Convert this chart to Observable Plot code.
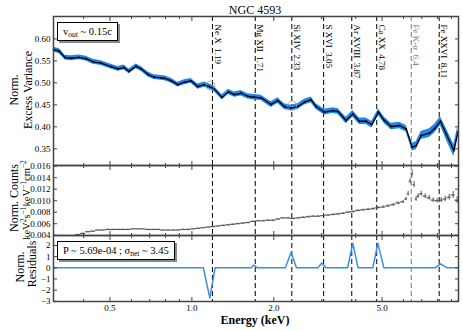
<!DOCTYPE html>
<html><head><meta charset="utf-8">
<script src="https://cdn.jsdelivr.net/npm/d3@7"></script>
<script src="https://cdn.jsdelivr.net/npm/@observablehq/plot@0.6"></script>
<style>
body{margin:0;background:#fff;}
#c{position:relative;width:463px;height:331px;overflow:hidden;font-family:"Liberation Serif","Times New Roman",serif;color:#000;background:#fff;}
#c svg{position:absolute;left:0;}
.ov{position:absolute;white-space:nowrap;}
.lbl{position:absolute;transform:translate(-50%,-50%) rotate(-90deg);text-align:center;white-space:nowrap;font-size:12px;line-height:12px;}
.box{position:absolute;border:1px solid #000;background:#fff;box-shadow:2px 2px 0 #8a8a8a;font-size:10.5px;height:17px;line-height:17px;padding:0 5px;white-space:nowrap;}
.box sub{font-size:7.5px;vertical-align:-2px;line-height:0;}
.lbl sup{font-size:7.5px;line-height:0;vertical-align:4px;}
</style></head><body><div id="c"></div>
<script>
// ---------- data ----------
const lineNames = ["Ne X  1.19","Mg XII  1.71","Si XIV  2.33","S XVI  3.05","Ar XVIII  3.87","Ca XX  4.78","Fe K-\u03b1  6.4","Fe XXVI  8.11"];
const lineE = [1.19, 1.71, 2.33, 3.05, 3.87, 4.78, 6.4, 8.11];
const lineGray = [false, false, false, false, false, false, true, false];

const varE = [0.31,0.3258,0.3418,0.3596,0.3848,0.4083,0.4333,0.4636,0.5045,0.5354,0.5631,0.5875,0.6234,0.6505,0.6902,0.7262,0.7704,0.7923,0.8385,0.8875,0.9385,0.9933,1.0512,1.1117,1.1595,1.2067,1.2912,1.3618,1.4329,1.5167,1.6057,1.6975,1.7965,1.9554,2.0696,2.1881,2.3158,2.4510,2.5922,2.7434,2.8620,3.0697,3.2961,3.44,3.6891,3.9040,4.1282,4.3697,4.5855,4.8497,5.1020,5.4,5.7943,6.1319,6.4506,6.6725,6.9599,7.4681,7.7903,8.1968,8.6024,9.1830,9.50];
const varV = [0.5757,0.572,0.5575,0.556,0.558,0.555,0.548,0.545,0.537,0.532,0.535,0.526,0.5377,0.532,0.519,0.513,0.5113,0.5105,0.505,0.496,0.5014,0.5045,0.4916,0.496,0.4916,0.4863,0.467,0.4795,0.4734,0.4764,0.4695,0.4673,0.466,0.4507,0.4598,0.4461,0.4423,0.4461,0.456,0.4614,0.4461,0.4332,0.437,0.435,0.4143,0.4295,0.4127,0.4127,0.405,0.4332,0.4143,0.4007,0.403,0.3955,0.3538,0.3568,0.3802,0.3855,0.3955,0.4127,0.384,0.346,0.388];
const varErr = [0.0055,0.0055,0.0055,0.0055,0.0055,0.0055,0.0055,0.0055,0.0055,0.0055,0.0055,0.0055,0.0055,0.0055,0.0055,0.0055,0.0055,0.0055,0.0055,0.0055,0.0055,0.0055,0.006,0.006,0.006,0.006,0.006,0.006,0.006,0.006,0.006,0.006,0.006,0.0065,0.0065,0.0065,0.0065,0.0065,0.0065,0.0065,0.0065,0.0065,0.0065,0.0065,0.0075,0.0075,0.0075,0.0075,0.0075,0.0075,0.0075,0.0075,0.0075,0.0075,0.009,0.009,0.009,0.01,0.01,0.01,0.013,0.014,0.014];

const markE = [1.17, 2.336];
const markV = [0.494, 0.4484];

const cntE = [0.3817,0.3981,0.4153,0.4333,0.4519,0.4715,0.4918,0.5131,0.5354,0.5584,0.5826,0.6078,0.6341,0.6615,0.6902,0.7200,0.7511,0.7836,0.8175,0.8528,0.8898,0.9282,0.9683,1.0102,1.0539,1.0995,1.1470,1.1964,1.2482,1.3021,1.3585,1.4171,1.4787,1.5424,1.6091,1.6788,1.7515,1.8273,1.9062,1.9887,2.0748,2.1646,2.2582,2.3560,2.4575,2.5638,2.6748,2.7905,2.9107,3.0372,3.1674,3.3044,3.4473,3.5966,3.7523,3.9138,4.0832,4.2599,4.4443,4.6367,4.8374,5.0466,5.2651,5.4930,5.7306,5.9787,6.1319,6.2370,6.3430,6.4520,6.5615,6.6725,6.7862,6.9599,7.2001,7.4479,7.7047,7.9697,8.2462,8.5310,8.8250,9.1281,9.4406];
const cntV = [0.0041,0.0043,0.0046,0.0047,0.0049,0.0049,0.0050,0.0050,0.0050,0.0050,0.0050,0.0051,0.0051,0.0051,0.0050,0.0050,0.0050,0.0049,0.0049,0.0049,0.0049,0.0050,0.0050,0.0051,0.0052,0.0053,0.0054,0.0055,0.0056,0.0057,0.0058,0.0059,0.0060,0.0061,0.0062,0.0064,0.0065,0.0065,0.0066,0.0066,0.0068,0.0070,0.0070,0.0069,0.0070,0.0071,0.0072,0.0073,0.0073,0.0074,0.0075,0.0076,0.0077,0.0078,0.0080,0.0081,0.0083,0.0084,0.0085,0.0086,0.0088,0.0089,0.0091,0.0093,0.0096,0.0098,0.0103,0.0112,0.0134,0.0147,0.0128,0.0103,0.0108,0.0112,0.0108,0.0105,0.0101,0.0100,0.0101,0.0103,0.0106,0.0110,0.0101];
const cntErr = [0.00008,0.00008,0.00007,0.00007,0.00006,0.00006,0.00006,0.00006,0.00006,0.00006,0.00006,0.00006,0.00006,0.00006,0.00006,0.00006,0.00006,0.00006,0.00006,0.00006,0.00006,0.00006,0.00006,0.00006,0.00006,0.00006,0.00007,0.00007,0.00007,0.00007,0.00008,0.00008,0.00008,0.00008,0.00008,0.00009,0.00009,0.00009,0.0001,0.0001,0.0001,0.0001,0.0001,0.0001,0.00011,0.00011,0.00011,0.00012,0.00012,0.00012,0.00013,0.00013,0.00013,0.00014,0.00014,0.00015,0.00015,0.00016,0.00016,0.00017,0.00018,0.00019,0.0002,0.00021,0.00022,0.00024,0.0003,0.0004,0.0005,0.0006,0.0005,0.0004,0.0004,0.0004,0.0004,0.0004,0.0004,0.0004,0.00045,0.0005,0.0005,0.0006,0.0006];

const resE = [0.31,1.102,1.164,1.217,1.651,1.689,1.737,2.207,2.316,2.423,2.904,3.004,3.114,3.735,3.905,4.08,4.624,4.826,5.077,7.84,8.20,8.67,9.55];
const resV = [0,0,-2.7,0,0,0.25,0,0,1.4,0,0,0.43,0,0,2.2,0,0,2.2,0,0,0.36,0,0];

const xMajor = [0.5, 1, 2, 5];
const xMajorLabels = ["0.5", "1.0", "2.0", "5.0"];
const xMinor = [0.4, 0.6, 0.7, 0.8, 0.9, 3, 4, 6, 7, 8, 9];
const yTopTicks = [0.35, 0.40, 0.45, 0.50, 0.55, 0.60];
const yTopLabels = ["0.35", "0.40", "0.45", "0.50", "0.55", "0.60"];
const yMidTicks = [0.004, 0.006, 0.008, 0.010, 0.012, 0.014, 0.016];
const yMidLabels = ["0.004", "0.006", "0.008", "0.010", "0.012", "0.014", "0.016"];
const yResTicks = [-3, -2, -1, 0, 1, 2];
const yResLabels = ["\u22123", "\u22122", "\u22121", "0", "1", "2"];

// ---------- build ----------
const FONT = "Liberation Serif, Times New Roman, serif";
const BLUE = "#1f86f0";
const AX = "#444";
const W = 463, ML = 53, MR = 5;
const xScale = {type: "log", domain: [0.31, 9.55]};

const lines = lineE.map((e, i) => ({e, name: lineNames[i], gray: lineGray[i]}));
const varData = varE.map((e, i) => ({e, v: varV[i], err: varErr[i]}));
const markData = markE.map((e, i) => ({e, v: markV[i]}));
const cntData = cntE.map((e, i) => {
  const lo = i > 0 ? Math.sqrt(cntE[i - 1] * e) : e / Math.sqrt(cntE[i + 1] / e);
  const hi = i < cntE.length - 1 ? Math.sqrt(cntE[i + 1] * e) : e * Math.sqrt(e / cntE[i - 1]);
  return {e, v: cntV[i], err: cntErr[i], lo, hi};
});
const resData = resE.map((e, i) => ({e, v: resV[i]}));
const xLabData = xMajor.map((e, i) => ({e, t: xMajorLabels[i]}));

function lbl(ticks, labels) { return d => labels[ticks.indexOf(d)]; }

function axes(yTicks, yLabels, bottomLabels) {
  return [
    Plot.axisY(yTicks, {anchor: "left", tickSize: -4, tickPadding: 7, tickFormat: lbl(yTicks, yLabels), label: null, stroke: AX, fontSize: 9}),
    Plot.axisY(yTicks, {anchor: "right", tickSize: -4, tickFormat: () => "", label: null, stroke: AX}),
    Plot.axisX(xMajor, {anchor: "bottom", tickSize: -4, tickFormat: () => "", label: null, stroke: AX}),
    Plot.axisX(xMinor, {anchor: "bottom", tickSize: -2, tickFormat: () => "", label: null, stroke: AX}),
    Plot.axisX(xMajor, {anchor: "top", tickSize: -4, tickFormat: () => "", label: null, stroke: AX}),
    Plot.axisX(xMinor, {anchor: "top", tickSize: -2, tickFormat: () => "", label: null, stroke: AX}),
    ...(bottomLabels ? [Plot.text(xLabData, {x: "e", text: "t", frameAnchor: "bottom", dy: 9, fontSize: 9, fill: "#000"})] : []),
    Plot.frame({stroke: AX, strokeWidth: 1.5})
  ];
}
function dashed() {
  return [
    Plot.ruleX(lines.filter(d => !d.gray), {x: "e", stroke: "#000", strokeWidth: 1, strokeDasharray: "5,3"}),
    Plot.ruleX(lines.filter(d => d.gray), {x: "e", stroke: "#777", strokeWidth: 1, strokeDasharray: "5,3"})
  ];
}
const style = {fontFamily: FONT, fontSize: "9px", background: "transparent", overflow: "visible", color: "#000"};

const p1 = Plot.plot({
  width: W, height: 165, marginTop: 16, marginBottom: 0, marginLeft: ML, marginRight: MR, style,
  x: xScale, y: {domain: [0.312, 0.651]},
  marks: [
    ...dashed(),
    Plot.areaY(varData, {x: "e", y1: d => d.v - d.err, y2: d => d.v + d.err, fill: BLUE}),
    Plot.line(varData, {x: "e", y: "v", stroke: "#000", strokeWidth: 1.3}),
    Plot.dot(varData, {x: "e", y: "v", r: 1.0, fill: "#000"}),
    Plot.dot(markData, {x: "e", y: "v", r: 4.5, stroke: "#999", strokeWidth: 0.8, fill: "none"}),
    Plot.text(lines.filter(d => !d.gray), {x: "e", text: "name", frameAnchor: "top", dy: 8, dx: 5, rotate: 90, textAnchor: "start", lineAnchor: "middle", fill: "#000", fontSize: 9}),
    Plot.text(lines.filter(d => d.gray), {x: "e", text: "name", frameAnchor: "top", dy: 8, dx: 5, rotate: 90, textAnchor: "start", lineAnchor: "middle", fill: "#777", fontSize: 9}),
    ...axes(yTopTicks, yTopLabels, false)
  ]
});
const p2 = Plot.plot({
  width: W, height: 70, marginTop: 0, marginBottom: 0, marginLeft: ML, marginRight: MR, style,
  x: xScale, y: {domain: [0.00395, 0.01612]},
  marks: [
    ...dashed(),
    Plot.ruleX(cntData, {x: "e", y1: d => d.v - d.err, y2: d => d.v + d.err, stroke: "#555", strokeWidth: 1}),
    Plot.ruleY(cntData, {y: "v", x1: "lo", x2: "hi", stroke: "#555", strokeWidth: 1.2}),
    ...axes(yMidTicks, yMidLabels, false)
  ]
});
const p3 = Plot.plot({
  width: W, height: 96, marginTop: 0, marginBottom: 30, marginLeft: ML, marginRight: MR, style,
  x: xScale, y: {domain: [-3.02, 2.9]},
  marks: [
    ...dashed(),
    Plot.line(resData, {x: "e", y: "v", stroke: "#3a8ee8", strokeWidth: 1.5}),
    ...axes(yResTicks, yResLabels, true)
  ]
});

const c = document.getElementById("c");
[[p1, 0], [p2, 165], [p3, 235]].forEach(([svg, top]) => { svg.style.top = top + "px"; c.appendChild(svg); });

function ov(html, cls, css) {
  const d = document.createElement("div");
  d.className = cls; d.innerHTML = html; Object.assign(d.style, css); c.appendChild(d);
}
ov("NGC 4593", "ov", {left: "255px", top: "10px", transform: "translate(-50%,-50%)", fontSize: "12px"});
ov("Energy (keV)", "ov", {left: "255px", top: "320px", transform: "translate(-50%,-50%)", fontSize: "12px", fontWeight: "bold"});
ov("Norm.", "lbl", {left: "14px", top: "90px"});
ov("Excess Variance", "lbl", {left: "28px", top: "90px"});
ov("Norm. Counts", "lbl", {left: "14px", top: "198px"});
ov("keV<sup>2</sup>s<sup>\u22121</sup>keV<sup>\u22121</sup>cm<sup>\u22122</sup>", "lbl", {left: "27px", top: "200px", fontSize: "10.5px"});
ov("Norm.", "lbl", {left: "20px", top: "267px"});
ov("Residuals", "lbl", {left: "32px", top: "264px"});
ov("v<sub><i>out</i></sub> ~ 0.15c", "box", {left: "57px", top: "22px"});
ov("P ~ 5.69e-04 ; \u03c3<sub>net</sub> ~ 3.45", "box", {left: "57px", top: "241px"});
</script>
</body></html>
